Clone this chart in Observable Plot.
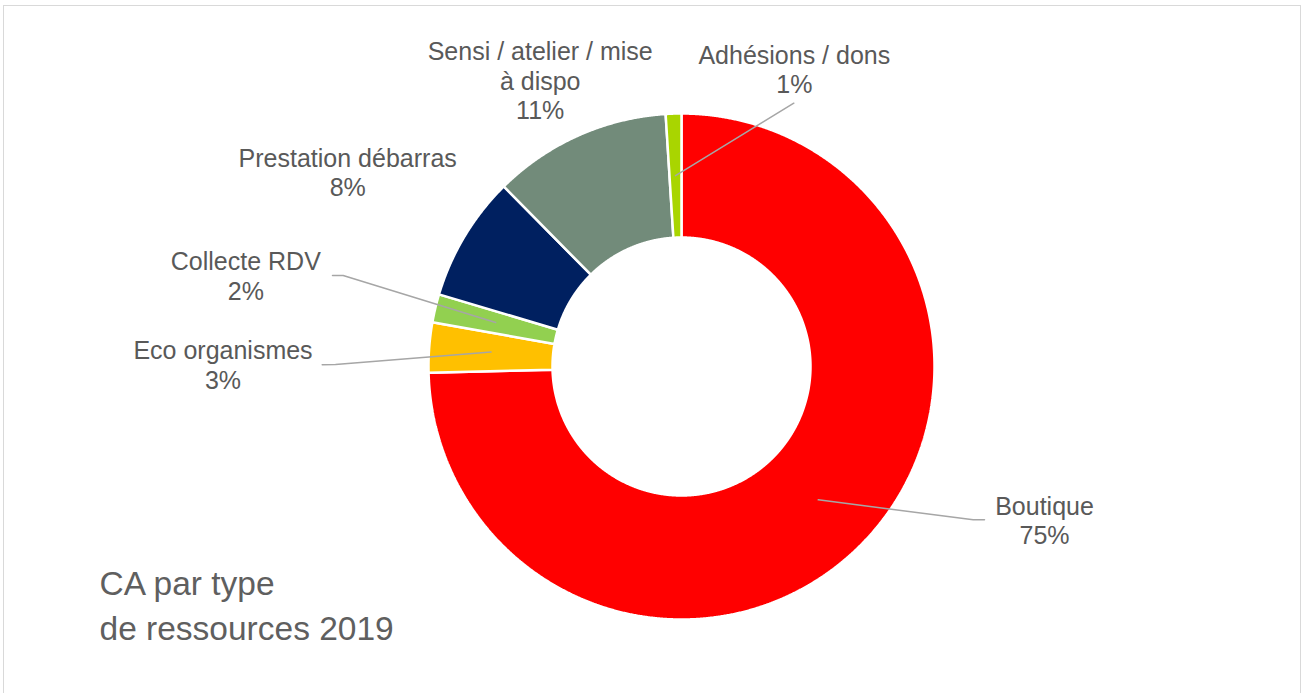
<!DOCTYPE html>
<html><head><meta charset="utf-8">
<script src="https://cdn.jsdelivr.net/npm/d3@7"></script>
<script src="https://cdn.jsdelivr.net/npm/@observablehq/plot@0.6"></script>
<style>
html,body{margin:0;padding:0;background:#fff;overflow:hidden}
#chart{position:absolute;left:0;top:0}
#frame{position:absolute;left:3px;top:5px;width:1296px;height:710px;border:1.5px solid #d9d9d9;pointer-events:none}
</style></head><body>
<div id="chart"></div><div id="frame"></div>
<script>
// ---- data ----
const categories = ["Boutique", "Eco organismes", "Collecte RDV", "Prestation débarras", "Sensi / atelier / mise\nà dispo", "Adhésions / dons"];
const shares = [74.6, 3.2, 1.8, 8.0, 11.4, 1.0];
const percentLabels = ["75%", "3%", "2%", "8%", "11%", "1%"];
const sliceColors = ["#FF0000", "#FFC000", "#92D050", "#002060", "#728B7A", "#A9D500"];
const titleLines = ["CA par type", "de ressources 2019"];

// ---- layout ----
const W = 1301, H = 693, CX = 681, CY = 366, R_OUT = 253, R_IN = 129;
const FS = 25, LH = 29.5, TITLE_FS = 33.5;
const labelLayout = [
  {x: 1044, y: 514, leader: [[972.7, 519.3], [984, 519.3]]},
  {x: 222.5, y: 358.5, leader: [[335, 364], [321.7, 364.3]]},
  {x: 245.3, y: 269.5, leader: [[342.7, 275], [332, 275]]},
  {x: 347.2, y: 166, leader: null},
  {x: 539.7, y: 59.5, leader: null},
  {x: 793.8, y: 63, leader: [[793.3, 102.7]]}
];

const rows = categories.map((c, i) => ({cat: c, share: shares[i], pct: percentLabels[i], color: sliceColors[i]}));
const arcs = d3.pie().sort(null).value(d => d.share).startAngle(0).endAngle(2 * Math.PI)(rows);

const px = (r, t) => CX + r * Math.sin(t);
const py = (r, t) => CY - r * Math.cos(t);

// slice polygons
const slicePts = [];
arcs.forEach(a => {
  const n = Math.max(6, Math.ceil((a.endAngle - a.startAngle) / 0.004));
  const ring = [];
  for (let k = 0; k <= n; k++) { const t = a.startAngle + (a.endAngle - a.startAngle) * k / n; ring.push([px(R_OUT, t), py(R_OUT, t)]); }
  for (let k = n; k >= 0; k--) { const t = a.startAngle + (a.endAngle - a.startAngle) * k / n; ring.push([px(R_IN, t), py(R_IN, t)]); }
  ring.push(ring[0]);
  ring.forEach(([x, y]) => slicePts.push({cat: a.data.cat, color: a.data.color, x, y}));
});

// leader lines
const leaderPts = [];
arcs.forEach((a, i) => {
  const L = labelLayout[i];
  if (!L.leader) return;
  const mid = (a.startAngle + a.endAngle) / 2, rm = (R_OUT + R_IN) / 2;
  leaderPts.push({id: i, x: px(rm, mid), y: py(rm, mid)});
  L.leader.forEach(([x, y]) => leaderPts.push({id: i, x, y}));
});

// label text lines
const textRows = [];
arcs.forEach((a, i) => {
  const L = labelLayout[i];
  const lines = [...a.data.cat.split("\n"), a.data.pct];
  lines.forEach((s, k) => textRows.push({text: s, x: L.x, y: L.y + k * LH}));
});
const titleRows = titleLines.map((s, k) => ({text: s, x: 99, y: 594.5 + k * 45}));

const chart = Plot.plot({
  width: W, height: H,
  margin: 0,
  x: {domain: [0, W], range: [0, W], axis: null},
  y: {domain: [0, H], range: [0, H], axis: null},
  color: {type: "identity"},
  style: {background: "transparent"},
  marks: [
    Plot.line(slicePts, {x: "x", y: "y", z: "cat", fill: "color", stroke: "white", strokeWidth: 2.5, strokeLinejoin: "miter"}),
    Plot.line(leaderPts, {x: "x", y: "y", z: "id", stroke: "#A6A6A6", strokeWidth: 1.5}),
    Plot.text(textRows, {x: "x", y: "y", text: "text", fontSize: FS, fontFamily: "Liberation Sans", fill: "#595959", textAnchor: "middle", lineAnchor: "middle", dy: -0.32 * FS}),
    Plot.text(titleRows, {x: "x", y: "y", text: "text", fontSize: TITLE_FS, fontFamily: "Liberation Sans", fill: "#5f5f5f", textAnchor: "start", lineAnchor: "middle", dy: -0.32 * TITLE_FS})
  ]
});
document.getElementById("chart").appendChild(chart);
</script>
</body></html>
